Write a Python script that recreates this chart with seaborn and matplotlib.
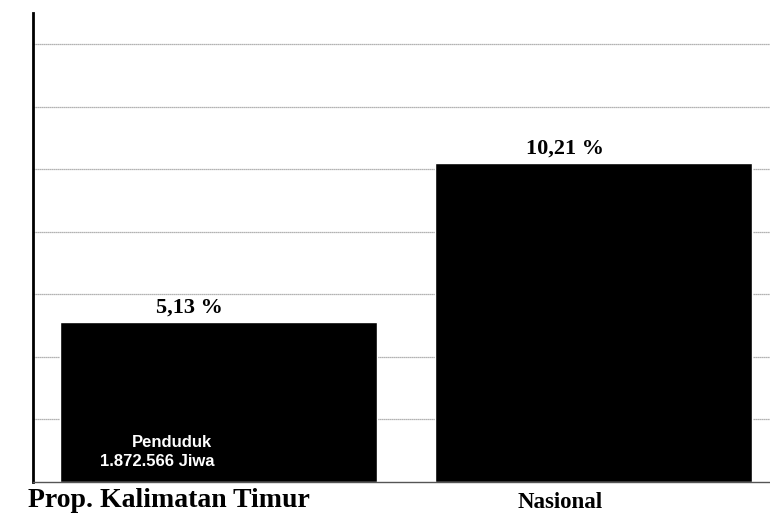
import matplotlib
matplotlib.use('Agg')
import matplotlib.pyplot as plt
import seaborn as sns
import pandas as pd

# data
regions = ['Prop. Kalimatan Timur', 'Nasional']
pct_values = [5.13, 10.21]
pct_labels = ['5,13 %', '10,21 %']
pop_note = ['Penduduk', '1.872.566 Jiwa']

df = pd.DataFrame({'region': regions, 'pct': pct_values})

sns.set_style('white')
fig = plt.figure(figsize=(7.7, 5.14), dpi=100)
ax = fig.add_axes([33 / 770, 32 / 514, 746 / 770, 469 / 514])

sns.barplot(data=df, x='region', y='pct', color='black', width=0.845,
            saturation=1, ax=ax, zorder=2)

ax.set_xlim(-0.495, 1.495)
ax.set_ylim(0, 15)
ax.set_yticks(range(2, 15, 2))
ax.yaxis.grid(True, color='#9a9a9a', linestyle=(0, (1, 0.6)), linewidth=0.9)
ax.set_axisbelow(True)
ax.tick_params(left=False, bottom=False, labelleft=False, labelbottom=False)
ax.set_xlabel('')
ax.set_ylabel('')
for side in ['top', 'right']:
    ax.spines[side].set_visible(False)
ax.spines['left'].set_color('black')
ax.spines['left'].set_linewidth(2)
ax.spines['bottom'].set_color('#555555')
ax.spines['bottom'].set_linewidth(1)

serif = 'Liberation Serif'
sans = 'Liberation Sans'

# value labels above bars
for i, (v, lbl) in enumerate(zip(pct_values, pct_labels)):
    ax.annotate(lbl, xy=(i - 0.077, v), xytext=(0, 6.5), textcoords='offset points',
                ha='center', va='baseline', fontsize=16, fontweight='bold',
                family=serif, color='black')

# category labels under the axis
cat_dx = [-0.132, -0.089]
cat_fs = [20, 16.5]
for i, name in enumerate(regions):
    ax.annotate(name, xy=(i + cat_dx[i], 0), xycoords=('data', 'axes fraction'),
                xytext=(0, -22), textcoords='offset points', ha='center',
                va='bottom', fontsize=cat_fs[i], fontweight='bold', family=serif,
                color='black', annotation_clip=False)

# population note inside first bar
ax.annotate(pop_note[0], xy=(0, 0), xytext=(-33.5, 25.2), textcoords='offset points',
            ha='center', va='baseline', fontsize=12, fontweight='bold',
            family=sans, color='white')
ax.annotate(pop_note[1], xy=(0, 0), xytext=(-43.9, 11.5), textcoords='offset points',
            ha='center', va='baseline', fontsize=12, fontweight='bold',
            family=sans, color='white')

plt.savefig('out.png', dpi=100)
